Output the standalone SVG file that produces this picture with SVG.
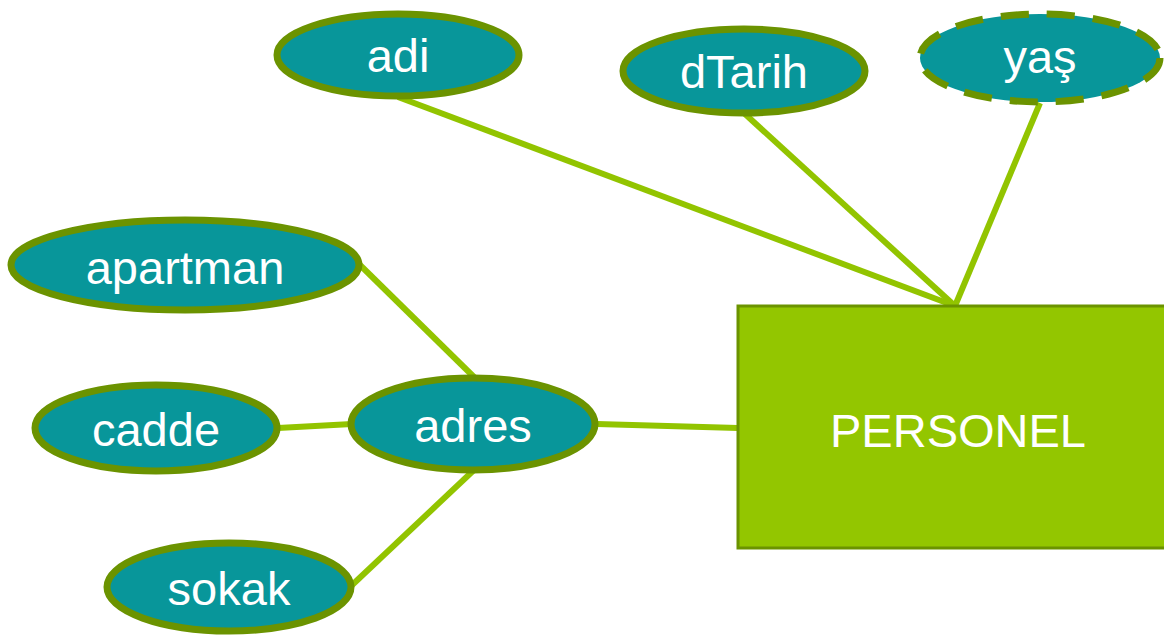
<svg xmlns="http://www.w3.org/2000/svg" width="1164" height="637" viewBox="0 0 1164 637">
  <style>
    .attr { fill: #08969a; stroke: #6b9300; stroke-width: 7; }
    .derived { stroke-dasharray: 28 18; }
    .entity { fill: #93c600; stroke: #6b9300; stroke-width: 3; }
    .lbl { font-family: "Liberation Sans", Arial, sans-serif; font-size: 47px; fill: #ffffff; text-anchor: middle; }
    .conn line { stroke: #92c400; stroke-width: 6; }
  </style>
  <rect width="1164" height="637" fill="#ffffff"/>

  <g id="connectors" class="conn">
    <line x1="398" y1="97" x2="955" y2="306"/>
    <line x1="745" y1="114" x2="955" y2="306"/>
    <line x1="1040" y1="103" x2="955" y2="306"/>
    <line x1="360" y1="265" x2="475" y2="378"/>
    <line x1="278" y1="428" x2="352" y2="424"/>
    <line x1="597" y1="424" x2="738" y2="428"/>
    <line x1="474" y1="470" x2="350" y2="587"/>
  </g>

  <g id="personel">
    <rect class="entity" x="738" y="306" width="440" height="242"/>
    <text class="lbl" x="958" y="447">PERSONEL</text>
  </g>

  <g id="adi">
    <ellipse class="attr" cx="398" cy="55" rx="121" ry="41"/>
    <text class="lbl" x="398" y="72">adi</text>
  </g>

  <g id="dTarih">
    <ellipse class="attr" cx="744" cy="71" rx="121" ry="42"/>
    <text class="lbl" x="744" y="88">dTarih</text>
  </g>

  <g id="yas">
    <ellipse class="attr derived" cx="1040" cy="58" rx="120" ry="44"/>
    <text class="lbl" x="1040" y="73">yaş</text>
  </g>

  <g id="apartman">
    <ellipse class="attr" cx="185" cy="265" rx="174" ry="45"/>
    <text class="lbl" x="185" y="284">apartman</text>
  </g>

  <g id="cadde">
    <ellipse class="attr" cx="156" cy="428" rx="121" ry="43"/>
    <text class="lbl" x="156" y="446">cadde</text>
  </g>

  <g id="adres">
    <ellipse class="attr" cx="473" cy="424" rx="122" ry="46"/>
    <text class="lbl" x="473" y="442">adres</text>
  </g>

  <g id="sokak">
    <ellipse class="attr" cx="229" cy="587" rx="122" ry="44"/>
    <text class="lbl" x="229" y="605">sokak</text>
  </g>
</svg>
